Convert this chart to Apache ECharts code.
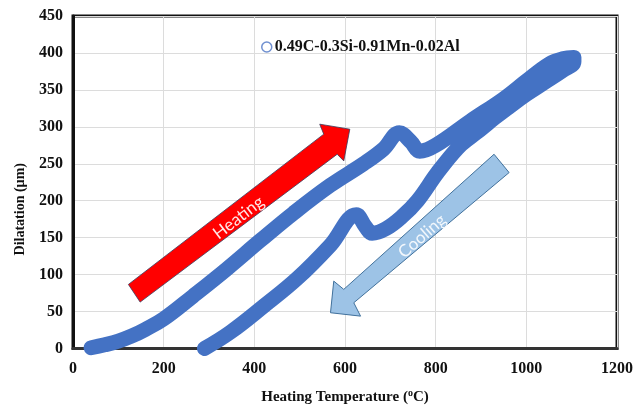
<!DOCTYPE html>
<html><head><meta charset="utf-8">
<script src="https://cdn.jsdelivr.net/npm/echarts@6/dist/echarts.min.js"></script>
<style>html,body{margin:0;padding:0;background:#fff}#c{width:643px;height:410px}</style>
</head><body><div id="c"></div>
<script>
// ---- data ----
const seriesName = '0.49C-0.3Si-0.91Mn-0.02Al';
const heatingTemp = [40, 70, 100, 130, 160, 200, 265, 340, 413, 486, 568, 641, 685, 720, 745, 765, 800, 877, 950, 1000, 1050, 1080, 1105];
const heatingDil  = [1, 5, 10, 17, 26, 40, 71, 108, 146, 183, 221, 250, 270, 292, 280, 267, 275, 308, 338, 362, 385, 392, 394];
const coolingTemp = [1105, 1080, 1040, 1000, 960, 930, 900, 877, 848, 804, 760, 725, 690, 660, 645, 625, 568, 495, 420, 347, 290];
const coolingDil  = [388, 376, 360, 344, 326, 312, 297, 286, 271, 238, 200, 178, 162, 156, 165, 181, 140, 95, 57, 22, 0];
const xTickLabels = ['0', '200', '400', '600', '800', '1000', '1200'];
const yTickLabels = ['0', '50', '100', '150', '200', '250', '300', '350', '400', '450'];
const xTitle = 'Heating Temperature (';
const yTitle = 'Dilatation (µm)';
const heatingLabel = 'Heating';
const coolingLabel = 'Cooling';

// annotation arrows, in data coordinates
const heatArrow = [[122.2, 86.7], [553.1, 290.1], [544.3, 303.6], [610.6, 296.8], [597.3, 253.9], [582.8, 262.9], [148.1, 62.8]];
const coolArrow = [[928.8, 262.9], [597.3, 80.0], [575.2, 91.2], [568.0, 48.4], [634.3, 43.8], [619.4, 61.9], [962.0, 238.1]];
const heatTextAt = [365, 177];
const coolTextAt = [770, 152];

const loop = heatingTemp.map((t, i) => [t, heatingDil[i]])
  .concat(coolingTemp.map((t, i) => [t, coolingDil[i]]));

const serif = 'Liberation Serif, Times New Roman, serif';
const chart = echarts.init(document.getElementById('c'));
chart.setOption({
  animation: false,
  backgroundColor: '#fff',
  grid: { left: 73, right: 26, top: 16, bottom: 61, show: true, borderColor: '#111', borderWidth: 3 },
  legend: {
    data: [seriesName], left: 256, top: 34, icon: 'circle', itemWidth: 10, itemHeight: 10, itemGap: 4,
    itemStyle: { color: '#fff', borderColor: '#7090d0', borderWidth: 1.5 },
    textStyle: { fontFamily: serif, fontWeight: 'bold', fontSize: 16, color: '#111', padding: [0, 0, 0, -2] }
  },
  xAxis: {
    type: 'value', min: 0, max: 1200, interval: 200,
    axisLine: { show: true, lineStyle: { color: '#333', width: 3 } },
    axisTick: { show: false },
    axisLabel: { margin: 12, fontFamily: serif, fontWeight: 'bold', fontSize: 16, color: '#111',
      formatter: (v) => xTickLabels[Math.round(v / 200)] },
    splitLine: { show: true, lineStyle: { color: '#dcdcdc', width: 1 } },
    name: '{a|' + xTitle + '}{s|o}{a|C)}', nameLocation: 'middle', nameGap: 40,
    nameTextStyle: { rich: {
      a: { fontFamily: serif, fontWeight: 'bold', fontSize: 15, color: '#111', lineHeight: 18 },
      s: { fontFamily: serif, fontWeight: 'bold', fontSize: 10, color: '#111', verticalAlign: 'top', lineHeight: 10 }
    } }
  },
  yAxis: {
    type: 'value', min: 0, max: 450, interval: 50,
    axisLine: { show: true, lineStyle: { color: '#111', width: 3 } },
    axisTick: { show: false },
    axisLabel: { margin: 10, fontFamily: serif, fontWeight: 'bold', fontSize: 16, color: '#111',
      formatter: (v) => yTickLabels[Math.round(v / 50)] },
    splitLine: { show: true, lineStyle: { color: '#dcdcdc', width: 1 } },
    name: yTitle, nameLocation: 'middle', nameGap: 46, nameRotate: 90,
    nameTextStyle: { fontFamily: serif, fontWeight: 'bold', fontSize: 14, color: '#111', padding: [0, 54, 0, 0] }
  },
  series: [{
    name: seriesName, type: 'line', data: loop, smooth: 0.4, showSymbol: false, symbol: 'emptyCircle',
    lineStyle: { color: '#4472C4', width: 15, cap: 'round', join: 'round' },
    itemStyle: { color: '#4472C4' }, z: 3
  }]
});

function px(p) { return chart.convertToPixel({ xAxisIndex: 0, yAxisIndex: 0 }, p); }
const rotOf = (a, b) => { const A = px(a), B = px(b); return Math.atan2(A[1] - B[1], B[0] - A[0]); };
const heatRot = rotOf([(heatArrow[0][0] + heatArrow[6][0]) / 2, (heatArrow[0][1] + heatArrow[6][1]) / 2], heatArrow[3]);
const coolRot = rotOf(coolArrow[3], [(coolArrow[0][0] + coolArrow[6][0]) / 2, (coolArrow[0][1] + coolArrow[6][1]) / 2]);
const hT = px(heatTextAt), cT = px(coolTextAt);
chart.setOption({
  graphic: [
    { type: 'polygon', z: 10, shape: { points: heatArrow.map(px) },
      style: { fill: '#ff0000', stroke: '#3a3a5a', lineWidth: 0.8 } },
    { type: 'polygon', z: 10, shape: { points: coolArrow.map(px) },
      style: { fill: '#9dc3e6', stroke: '#41719c', lineWidth: 1 } },
    { type: 'text', z: 11, x: hT[0], y: hT[1], rotation: heatRot,
      style: { text: heatingLabel, fill: '#ffe8e8', font: '17px Lato, "Open Sans", sans-serif', align: 'center', verticalAlign: 'middle' } },
    { type: 'text', z: 11, x: cT[0], y: cT[1], rotation: coolRot,
      style: { text: coolingLabel, fill: '#f2f7fc', font: '17px Lato, "Open Sans", sans-serif', align: 'center', verticalAlign: 'middle' } }
  ]
});
</script></body></html>
